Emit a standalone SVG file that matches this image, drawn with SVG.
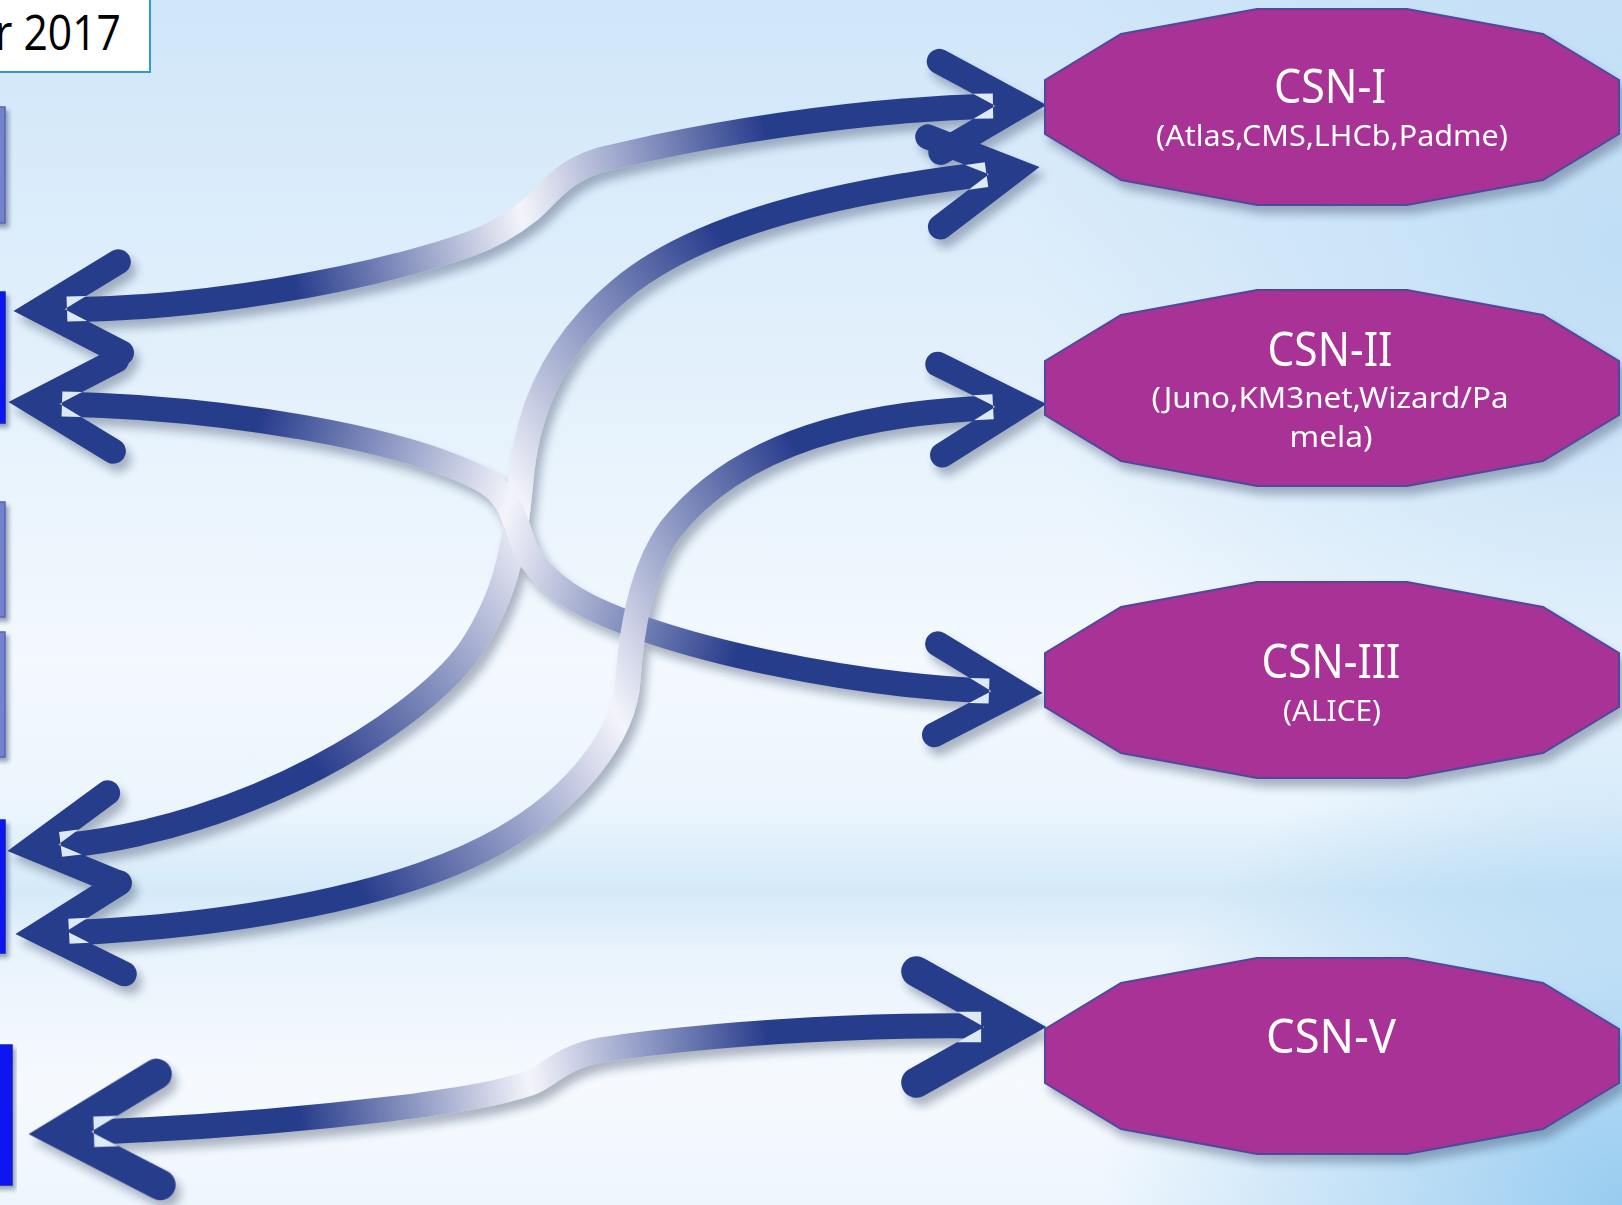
<svg xmlns="http://www.w3.org/2000/svg" xmlns:xlink="http://www.w3.org/1999/xlink" width="1622" height="1205" viewBox="0 0 1622 1205">
<defs>
<linearGradient id="bg" x1="0" y1="0" x2="0" y2="1">
<stop offset="0" stop-color="#d0e6f9"/>
<stop offset="0.35" stop-color="#e6f2fc"/>
<stop offset="0.55" stop-color="#f3f9fe"/>
<stop offset="0.67" stop-color="#ecf5fd"/>
<stop offset="0.74" stop-color="#d5eaf8"/>
<stop offset="0.79" stop-color="#e9f3fc"/>
<stop offset="0.9" stop-color="#f6fafe"/>
<stop offset="1" stop-color="#eef6fd"/>
</linearGradient>
<radialGradient id="bgBR" cx="1622" cy="1205" r="520" gradientUnits="userSpaceOnUse">
<stop offset="0" stop-color="#98ccf0" stop-opacity="1"/>
<stop offset="1" stop-color="#98ccf0" stop-opacity="0"/>
</radialGradient>
<radialGradient id="bgTR" cx="1622" cy="250" r="600" gradientUnits="userSpaceOnUse">
<stop offset="0" stop-color="#bcdcf5" stop-opacity="0.9"/>
<stop offset="1" stop-color="#bcdcf5" stop-opacity="0"/>
</radialGradient>
<filter id="sh" x="-10%" y="-10%" width="130%" height="140%">
<feDropShadow dx="5" dy="8" stdDeviation="4" flood-color="#1d2b4a" flood-opacity="0.33"/>
</filter>
<filter id="shs" x="-10%" y="-10%" width="130%" height="130%">
<feDropShadow dx="3" dy="4" stdDeviation="2" flood-color="#1d2b4a" flood-opacity="0.4"/>
</filter>
<polygon id="oct" points="-287,-27 -211,-73 -75,-98 75,-98 211,-73 287,-27 287,27 211,73 75,98 -75,98 -211,73 -287,27"/>
<g id="ah">
<polyline points="-107,-45.5 -26,0 -107,45.5" fill="none" stroke="#283c8c" stroke-width="25" stroke-linecap="round" stroke-linejoin="miter" stroke-miterlimit="10"/>
<polygon points="-73.7,-12.5 -54,-12.5 -54,-1.4" fill="#dce9f6"/>
<polygon points="-73.7,12.5 -54,12.5 -54,1.4" fill="#dce9f6"/>
</g>
<linearGradient id="g1" gradientUnits="userSpaceOnUse" x1="993" y1="106" x2="67" y2="310">
<stop offset="0" stop-color="#283c8c"/><stop offset="0.24" stop-color="#283c8c"/><stop offset="0.51" stop-color="#f4f5fb"/><stop offset="0.76" stop-color="#283c8c"/><stop offset="1" stop-color="#283c8c"/>
</linearGradient>
<linearGradient id="g2" gradientUnits="userSpaceOnUse" x1="987" y1="174" x2="61" y2="846">
<stop offset="0" stop-color="#283c8c"/><stop offset="0.22" stop-color="#283c8c"/><stop offset="0.5" stop-color="#f4f5fb"/><stop offset="0.78" stop-color="#283c8c"/><stop offset="1" stop-color="#283c8c"/>
</linearGradient>
<linearGradient id="g3" gradientUnits="userSpaceOnUse" x1="62" y1="404" x2="989" y2="691">
<stop offset="0" stop-color="#283c8c"/><stop offset="0.2" stop-color="#283c8c"/><stop offset="0.47" stop-color="#f4f5fb"/><stop offset="0.74" stop-color="#283c8c"/><stop offset="1" stop-color="#283c8c"/>
</linearGradient>
<linearGradient id="g4" gradientUnits="userSpaceOnUse" x1="993" y1="408" x2="67" y2="933">
<stop offset="0" stop-color="#283c8c"/><stop offset="0.18" stop-color="#283c8c"/><stop offset="0.45" stop-color="#f4f5fb"/><stop offset="0.74" stop-color="#283c8c"/><stop offset="1" stop-color="#283c8c"/>
</linearGradient>
<linearGradient id="g5" gradientUnits="userSpaceOnUse" x1="983" y1="1026" x2="94" y2="1132">
<stop offset="0" stop-color="#283c8c"/><stop offset="0.24" stop-color="#283c8c"/><stop offset="0.51" stop-color="#f4f5fb"/><stop offset="0.77" stop-color="#283c8c"/><stop offset="1" stop-color="#283c8c"/>
</linearGradient>
</defs>
<style>
.shaft{fill:none;stroke-width:25;stroke-linecap:butt}
.node{fill:#a83296;stroke:#4e4a9c;stroke-width:2}
.t{fill:#ffffff;font-family:"Noto Sans","DejaVu Sans",sans-serif;text-anchor:middle}
.tt{font-size:47px}
.st{font-size:29px}
.side{stroke-width:1.5}
</style>
<rect x="0" y="0" width="1622" height="1205" fill="url(#bg)"/>
<rect x="0" y="0" width="1622" height="1205" fill="url(#bgTR)"/>
<rect x="0" y="0" width="1622" height="1205" fill="url(#bgBR)"/>

<g id="title-box">
<rect x="-4" y="-4" width="154" height="76" fill="#ffffff" stroke="#2f9acb" stroke-width="2"/>
<text x="121" y="50" font-family="'Open Sans','Noto Sans',sans-serif" font-size="50" fill="#000000" text-anchor="end" textLength="126" lengthAdjust="spacingAndGlyphs">r 2017</text>
</g>

<g id="left-nodes" filter="url(#shs)">
<rect id="left-1" class="side" x="-10" y="107" width="15" height="116" fill="#7282cc" stroke="#5565b5"/>
<rect id="left-2" class="side" x="-10" y="292" width="15" height="131" fill="#0a14f0" stroke="#1020c0"/>
<rect id="left-3" class="side" x="-10" y="502" width="15" height="115" fill="#7282cc" stroke="#5565b5"/>
<rect id="left-4" class="side" x="-10" y="632" width="15" height="125" fill="#7282cc" stroke="#5565b5"/>
<rect id="left-5" class="side" x="-10" y="820" width="15" height="133" fill="#0a14f0" stroke="#1020c0"/>
<rect id="left-6" class="side" x="-10" y="1045" width="22" height="140" fill="#0a14f0" stroke="#1020c0"/>
</g>

<g id="connectors" filter="url(#sh)">
<path id="c1" class="shaft" stroke="url(#g1)" d="M 993,106 C 850,110 700,135 600,160 C 560,172 548,195 530,210 C 515,222 495,235 470,244 C 360,282 200,308 67,310"/>
<path id="c2" class="shaft" stroke="url(#g2)" d="M 987,174 C 850,190 700,222 620,290 C 560,340 530,400 522,470 C 515,540 510,590 470,650 C 420,720 250,828 61,846"/>
<path id="c3" class="shaft" stroke="url(#g3)" d="M 62,404 C 230,408 400,438 480,478 C 510,493 515,520 522,540 C 530,565 555,590 590,607 C 680,650 850,685 989,691"/>
<path id="c4" class="shaft" stroke="url(#g4)" d="M 993,408 C 870,412 740,440 670,530 C 645,565 632,620 628,680 C 625,730 580,800 486,848 C 400,892 250,925 67,933"/>
<path id="c5" class="shaft" stroke="url(#g5)" stroke-width="30" d="M 983,1026 C 850,1024 700,1035 600,1050 C 560,1058 550,1075 530,1083 C 500,1093 470,1098 414,1106 C 300,1120 200,1128 94,1132"/>
<use href="#ah" transform="translate(1047,105) rotate(-1)"/>
<use href="#ah" transform="translate(1040,167) rotate(-8)"/>
<use href="#ah" transform="translate(1047,404) rotate(-3)"/>
<use href="#ah" transform="translate(1043,693) rotate(2)"/>
<use href="#ah" transform="translate(1047,1027) scale(1.22)"/>
<use href="#ah" transform="translate(13,311) rotate(178)"/>
<use href="#ah" transform="translate(8,402) rotate(182)"/>
<use href="#ah" transform="translate(7,851) rotate(173)"/>
<use href="#ah" transform="translate(15,934) rotate(177)"/>
<use href="#ah" transform="translate(28,1134) rotate(178) scale(1.22)"/>
</g>

<g id="csn-1">
<use href="#oct" class="node" transform="translate(1332,107)" filter="url(#sh)"/>
<text class="t tt" x="1330" y="103" textLength="112" lengthAdjust="spacingAndGlyphs">CSN-I</text>
<text class="t st" x="1332" y="146" textLength="352" lengthAdjust="spacingAndGlyphs">(Atlas,CMS,LHCb,Padme)</text>
</g>
<g id="csn-2">
<use href="#oct" class="node" transform="translate(1332,388)" filter="url(#sh)"/>
<text class="t tt" x="1330" y="366" textLength="125" lengthAdjust="spacingAndGlyphs">CSN-II</text>
<text class="t st" x="1330" y="408" textLength="357" lengthAdjust="spacingAndGlyphs">(Juno,KM3net,Wizard/Pa</text>
<text class="t st" x="1331" y="447" textLength="83" lengthAdjust="spacingAndGlyphs">mela)</text>
</g>
<g id="csn-3">
<use href="#oct" class="node" transform="translate(1332,680)" filter="url(#sh)"/>
<text class="t tt" x="1331" y="678" textLength="139" lengthAdjust="spacingAndGlyphs">CSN-III</text>
<text class="t st" x="1332" y="721" textLength="98" lengthAdjust="spacingAndGlyphs">(ALICE)</text>
</g>
<g id="csn-5">
<use href="#oct" class="node" transform="translate(1332,1056)" filter="url(#sh)"/>
<text class="t tt" x="1331" y="1053" textLength="130" lengthAdjust="spacingAndGlyphs">CSN-V</text>
</g>
</svg>
